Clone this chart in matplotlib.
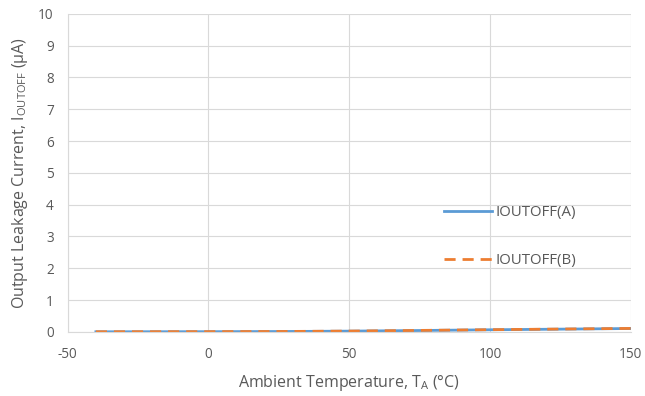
import matplotlib.pyplot as plt

plt.rcParams['font.family'] = ['Open Sans', 'DejaVu Sans']
plt.rcParams['mathtext.default'] = 'regular'
plt.rcParams['axes.unicode_minus'] = False

temp = [-40, -25, 0, 25, 50, 75, 100, 125, 150]
ioutoff_a = [0.002, 0.003, 0.005, 0.010, 0.022, 0.042, 0.065, 0.085, 0.105]
ioutoff_b = [0.003, 0.004, 0.006, 0.011, 0.024, 0.045, 0.068, 0.088, 0.108]

grey = "#595959"
gridc = "#D9D9D9"

fig = plt.figure(figsize=(6.45, 3.96), dpi=100)
ax = fig.add_axes([0.105, 0.162, 0.873, 0.803])

ax.plot(temp, ioutoff_a, color="#5B9BD5", lw=2, label="IOUTOFF(A)")
ax.plot(temp, ioutoff_b, color="#ED7D31", lw=2, ls=(0, (4, 2.5)), label="IOUTOFF(B)")

ax.set_xlim(-50, 150)
ax.set_ylim(0, 10)
ax.set_xticks(range(-50, 151, 50))
ax.set_yticks(range(0, 11))
ax.grid(True, color=gridc, lw=0.8)
ax.set_axisbelow(True)
for s in ["top", "right"]:
    ax.spines[s].set_visible(False)
for s in ["left", "bottom"]:
    ax.spines[s].set_color(gridc)
ax.tick_params(length=0, labelsize=9.8, labelcolor=grey)
ax.tick_params(axis="x", pad=11)
ax.tick_params(axis="y", pad=10)

ax.set_xlabel("Ambient Temperature, T$_A$ (°C)", fontsize=11.5, color=grey, labelpad=8)
ax.set_ylabel("Output Leakage Current, I$_{OUTOFF}$ (µA)", fontsize=11.5, color=grey, labelpad=6)

ax.legend(loc="upper left", bbox_to_anchor=(0.668, 0.398), frameon=False,
          fontsize=10.8, labelcolor=grey, handlelength=3.2, handletextpad=0.27,
          labelspacing=2.17, borderpad=0, borderaxespad=0)

fig.savefig("out.png", dpi=100)
